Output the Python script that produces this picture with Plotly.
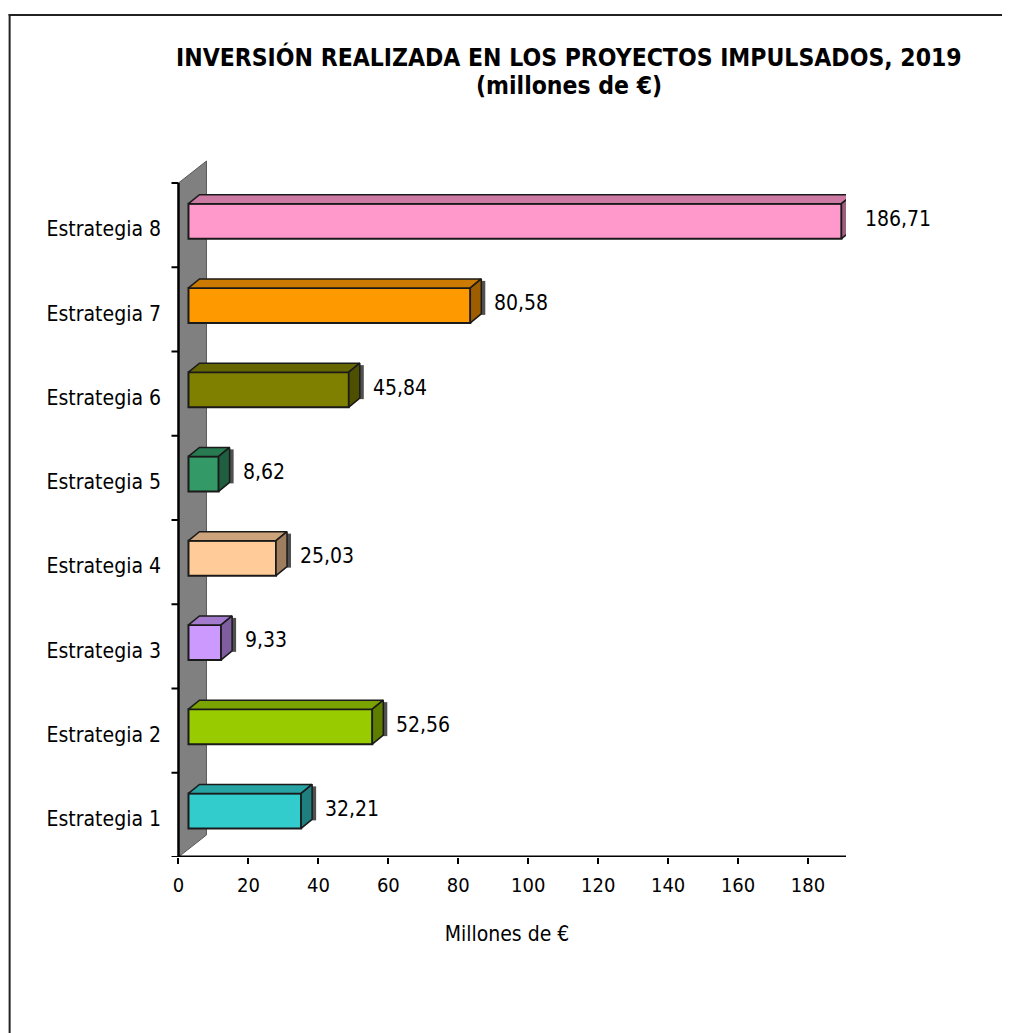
import plotly.graph_objects as go

categories = ["Estrategia 1", "Estrategia 2", "Estrategia 3", "Estrategia 4",
              "Estrategia 5", "Estrategia 6", "Estrategia 7", "Estrategia 8"]
values = [32.21, 52.56, 9.33, 25.03, 8.62, 45.84, 80.58, 186.71]
bar_colors = ["#33CCCC", "#99CC00", "#CC99FF", "#FFCC99",
              "#339966", "#808000", "#FF9900", "#FF99CC"]
x_ticks = [0, 20, 40, 60, 80, 100, 120, 140, 160, 180]

title_line1 = "INVERSIÓN REALIZADA EN LOS PROYECTOS IMPULSADOS, 2019"
title_line2 = "(millones de €)"
xaxis_title = "Millones de €"

FONT = "'DejaVu Sans Condensed', 'DejaVu Sans', sans-serif"

# ---- layout geometry (figure pixels; page has an 8px body margin) ----
OFF = 8
W, H = 1010 - OFF, 1033 - OFF
X0PX = 178.0 - OFF          # pixel of value 0
PPU_X = 3.5                 # pixels per unit on x
XMIN = -3.0
XRIGHT_PX = 846.0 - OFF
L = X0PX + XMIN * PPU_X
R = W - XRIGHT_PX
XMAX = (XRIGHT_PX - X0PX) / PPU_X
T = 150.0 - OFF
YBOT_PX = 857.0 - OFF
B = H - YBOT_PX
PPU_Y = (857.0 - 183.0) / len(categories)
YMIN = -0.5
YMAX = YMIN + (YBOT_PX - T) / PPU_Y


def dxu(px):
    return px / PPU_X


def dyu(px):
    return px / PPU_Y


def shade(hexc, f):
    h = hexc.lstrip("#")
    r, g, b = int(h[0:2], 16), int(h[2:4], 16), int(h[4:6], 16)
    return "#%02x%02x%02x" % (int(r * f), int(g * f), int(b * f))


def paper_x(px):
    return (px - L) / (W - L - R)


def paper_y(py):
    return (YBOT_PX - py) / (YBOT_PX - T)


# 3D offsets
BAR_FRONT_DX = dxu(10)
BAR_FRONT_DY = dyu(4)
BAR_H = dyu(35)
BAR_DDX = dxu(11)
BAR_DDY = dyu(9)
WALL_DX = dxu(28)
WALL_DY = dyu(22)

fig = go.Figure()

ypos = list(range(len(categories)))
ycent = [y + BAR_FRONT_DY for y in ypos]

# front faces
fig.add_trace(go.Bar(
    orientation="h", x=values, y=ycent, base=[BAR_FRONT_DX] * len(values),
    width=BAR_H, marker=dict(color=bar_colors, line=dict(color="#1a1a1a", width=2)),
    hoverinfo="skip", showlegend=False))

# top and side faces
for v, yc, c in zip(values, ycent, bar_colors):
    x0 = BAR_FRONT_DX
    x1 = BAR_FRONT_DX + v
    yt = yc + BAR_H / 2
    yb = yc - BAR_H / 2
    # shadow strip next to the side face
    sx = x1 + BAR_DDX
    fig.add_trace(go.Scatter(
        x=[sx, sx + dxu(4), sx + dxu(4), sx, sx],
        y=[yb + BAR_DDY - dyu(1), yb + BAR_DDY - dyu(1), yt + BAR_DDY - dyu(2),
           yt + BAR_DDY - dyu(2), yb + BAR_DDY - dyu(1)],
        mode="lines", fill="toself", fillcolor="#505050",
        line=dict(width=0), hoverinfo="skip", showlegend=False))
    fig.add_trace(go.Scatter(
        x=[x0, x1, x1 + BAR_DDX, x0 + BAR_DDX, x0],
        y=[yt, yt, yt + BAR_DDY, yt + BAR_DDY, yt],
        mode="lines", fill="toself", fillcolor=shade(c, 0.8),
        line=dict(color="#1a1a1a", width=1.5), hoverinfo="skip", showlegend=False))
    fig.add_trace(go.Scatter(
        x=[x1, x1 + BAR_DDX, x1 + BAR_DDX, x1, x1],
        y=[yb, yb + BAR_DDY, yt + BAR_DDY, yt, yb],
        mode="lines", fill="toself", fillcolor=shade(c, 0.62),
        line=dict(color="#1a1a1a", width=1.5), hoverinfo="skip", showlegend=False))

# value labels
annotations = []
for v, yc in zip(values, ycent):
    annotations.append(dict(
        x=BAR_FRONT_DX + v, y=yc, xref="x", yref="y", xanchor="left", yanchor="middle",
        xshift=22, yshift=2, showarrow=False,
        text=("%.2f" % v).replace(".", ","),
        font=dict(family=FONT, size=21, color="#000000")))

# title, two lines
for txt, py in ((title_line1, 57 - OFF), (title_line2, 86 - OFF)):
    annotations.append(dict(
        x=paper_x(568.5 - OFF), y=paper_y(py), xref="paper", yref="paper",
        xanchor="center", yanchor="middle", showarrow=False,
        text="<b>%s</b>" % txt,
        font=dict(family=FONT, size=24.5, color="#000000")))

shapes = []
# wall (behind bars)
shapes.append(dict(
    type="path", xref="x", yref="y", layer="below",
    path="M 0 %f L 0 %f L %f %f L %f %f Z" % (
        YMIN, YMIN + len(categories), WALL_DX, YMIN + len(categories) + WALL_DY,
        WALL_DX, YMIN + WALL_DY),
    fillcolor="#808080", line=dict(color="#5a5a5a", width=1)))
# y axis line and boundary ticks
shapes.append(dict(type="line", xref="x", yref="y", x0=0, x1=0,
                   y0=YMIN, y1=YMIN + len(categories),
                   line=dict(color="#000000", width=2.5)))
for k in range(len(categories) + 1):
    yy = YMIN + k
    shapes.append(dict(type="line", xref="x", yref="y", x0=-dxu(7), x1=0,
                       y0=yy, y1=yy, line=dict(color="#000000", width=2)))
# x axis line
shapes.append(dict(type="line", xref="x", yref="y", x0=0, x1=XMAX,
                   y0=YMIN, y1=YMIN, line=dict(color="#000000", width=3)))
# outer chart border (left and top)
shapes.append(dict(type="line", xref="paper", yref="paper",
                   x0=paper_x(1), x1=paper_x(1), y0=paper_y(6), y1=paper_y(H + 5),
                   line=dict(color="#222222", width=2)))
shapes.append(dict(type="line", xref="paper", yref="paper",
                   x0=paper_x(0), x1=paper_x(W + 5), y0=paper_y(7), y1=paper_y(7),
                   line=dict(color="#222222", width=2)))

fig.update_layout(
    width=W, height=H,
    margin=dict(l=L, r=R, t=T, b=B, pad=0),
    paper_bgcolor="#ffffff", plot_bgcolor="rgba(0,0,0,0)",
    barmode="overlay",
    shapes=shapes,
    annotations=annotations,
    xaxis=dict(range=[XMIN, XMAX], tickvals=x_ticks, ticktext=[str(t) for t in x_ticks],
               ticks="outside", ticklen=6, tickwidth=2, tickcolor="#000000",
               showline=False, showgrid=False, zeroline=False,
               ticklabelstandoff=4,
               tickfont=dict(family=FONT, size=20, color="#000000"),
               title=dict(text=xaxis_title, standoff=30,
                          font=dict(family=FONT, size=21, color="#000000"))),
    yaxis=dict(range=[YMIN, YMAX], tickvals=[y - dyu(4) for y in ypos], ticktext=categories,
               ticks="", showline=False, showgrid=False, zeroline=False,
               ticklabelstandoff=6,
               tickfont=dict(family=FONT, size=21, color="#000000")),
)

fig.write_html("out.html")
